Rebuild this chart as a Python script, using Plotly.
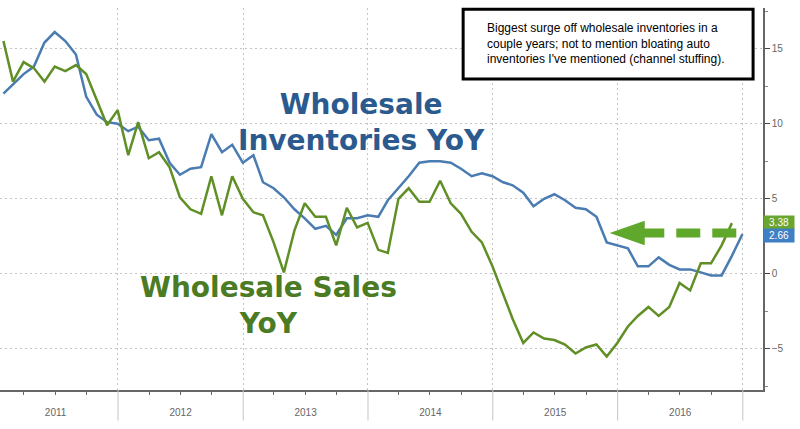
import pandas as pd
import plotly.graph_objs as go

# monthly YoY % changes, Jan 2011 onwards
months = pd.date_range('2011-01-31', periods=72, freq='ME')

inventories_yoy = [12.0, 12.6, 13.3, 13.8, 15.4, 16.1, 15.5, 14.6, 11.8, 10.6, 10.1, 10.0,
                   9.5, 9.8, 8.9, 9.0, 7.4, 6.6, 7.0, 7.1, 9.3, 8.1, 8.6, 7.4,
                   7.9, 6.1, 5.7, 5.1, 4.3, 3.7, 3.0, 3.2, 2.6, 3.7, 3.7, 3.9,
                   3.8, 4.9, 5.7, 6.5, 7.4, 7.5, 7.5, 7.4, 7.0, 6.5, 6.7, 6.5,
                   6.1, 5.9, 5.4, 4.5, 5.0, 5.3, 4.9, 4.4, 4.3, 3.8, 2.1, 1.9,
                   1.7, 0.5, 0.5, 1.1, 0.6, 0.3, 0.3, 0.1, -0.1, -0.1, 1.2, 2.66]

sales_yoy = [15.5, 12.8, 14.1, 13.7, 12.8, 13.8, 13.5, 13.9, 13.3, 11.6, 9.9, 10.9,
             7.9, 10.1, 7.7, 8.1, 7.1, 5.1, 4.3, 4.0, 6.5, 3.9, 6.5, 5.0,
             4.1, 3.9, 2.1, 0.1, 2.9, 4.7, 3.8, 3.8, 1.9, 4.4, 3.1, 3.4,
             1.6, 1.4, 5.0, 5.7, 4.8, 4.8, 6.2, 4.7, 4.0, 2.8, 2.1, 0.5,
             -1.3, -3.0, -4.6, -3.9, -4.3, -4.4, -4.7, -5.3, -4.9, -4.7, -5.5, -4.6,
             -3.5, -2.8, -2.2, -2.8, -2.2, -0.6, -1.1, 0.7, 0.7, 1.9, 3.38]

year_starts = pd.date_range('2012-01-01', periods=6, freq='YS')

blue = '#4a7cb2'
green = '#5f8f25'
arrow_green = '#5fa82c'

trace_inv = go.Scatter(x=months, y=inventories_yoy, mode='lines',
                       line={'color': blue, 'width': 2.5}, name='Inventories')
trace_sales = go.Scatter(x=months[:len(sales_yoy)], y=sales_yoy, mode='lines',
                         line={'color': green, 'width': 2.5}, name='Sales')

# year separators under the axis
shapes = []
for d in year_starts:
    shapes.append(dict(type='line', xref='x', yref='paper', x0=d, x1=d, y0=0, y1=-0.08,
                       line={'color': '#c4c4c4', 'width': 1}))

# green dashed arrow pointing left
shapes.append(dict(type='line', xref='paper', yref='paper', x0=0.965, x1=0.84, y0=0.411, y1=0.411,
                   line={'color': arrow_green, 'width': 9, 'dash': '24px,12px'}))
shapes.append(dict(type='path', xref='paper', yref='paper',
                   path='M 0.799 0.411 L 0.845 0.443 L 0.845 0.379 Z',
                   fillcolor=arrow_green, line={'width': 0}))

# comment box
shapes.append(dict(type='rect', xref='paper', yref='paper', x0=0.607, x1=0.987, y0=0.814, y1=0.997,
                   fillcolor='white', line={'color': 'black', 'width': 3}))

annotations = [
    dict(text='<b>Wholesale<br>Inventories YoY</b>', xref='paper', yref='paper', x=0.474, y=0.70,
         xanchor='center', yanchor='middle', showarrow=False,
         font={'family': 'DejaVu Sans', 'size': 28, 'color': '#2b5a8e'}),
    dict(text='<b>Wholesale Sales<br>YoY</b>', xref='paper', yref='paper', x=0.352, y=0.222,
         xanchor='center', yanchor='middle', showarrow=False,
         font={'family': 'DejaVu Sans', 'size': 28, 'color': '#4b7b23'}),
    dict(text='Biggest surge off wholesale inventories in a<br>couple years; not to mention bloating auto'
              '<br>inventories I\'ve mentioned (channel stuffing).',
         xref='paper', yref='paper', x=0.635, y=0.906, xanchor='left', yanchor='middle',
         showarrow=False, align='left',
         font={'family': 'Liberation Sans', 'size': 12, 'color': 'black'}),
    dict(text='3.38', xref='paper', yref='y', x=1.0, y=3.45, xanchor='left', showarrow=False,
         bgcolor='#6aa532', font={'family': 'Liberation Sans', 'size': 10, 'color': 'white'},
         width=28, borderpad=1),
    dict(text='2.66', xref='paper', yref='y', x=1.0, y=2.55, xanchor='left', showarrow=False,
         bgcolor='#3f7fc4', font={'family': 'Liberation Sans', 'size': 10, 'color': 'white'},
         width=28, borderpad=1),
]

layout = go.Layout(
    width=800, height=429,
    margin={'l': 0, 'r': 37, 't': 8, 'b': 39},
    paper_bgcolor='white', plot_bgcolor='white',
    showlegend=False,
    xaxis=dict(range=['2011-01-21', '2017-03-01'], dtick='M12', tick0='2011-01-01',
               tickformat='%Y', ticklabelmode='period', ticks='', ticklabelstandoff=12,
               showgrid=True, gridcolor='#c4c4c4', griddash='2px,3px', gridwidth=1,
               showline=True, linecolor='#666666', linewidth=1.5,
               tickfont={'family': 'Liberation Sans', 'size': 10, 'color': '#666666'},
               minor=dict(dtick='M3', ticks='outside', ticklen=3, tickcolor='#666666')),
    yaxis=dict(range=[-7.73, 17.7], dtick=5, side='right', zeroline=False,
               showgrid=True, gridcolor='#c4c4c4', griddash='2px,3px', gridwidth=1,
               showline=True, linecolor='#666666', linewidth=1.5,
               ticks='outside', ticklen=5, tickcolor='#444444',
               tickfont={'family': 'Liberation Sans', 'size': 10, 'color': '#666666'},
               minor=dict(dtick=2.5, ticks='outside', ticklen=3, tickcolor='#888888')),
    shapes=shapes,
    annotations=annotations,
)

fig = go.Figure(data=[trace_inv, trace_sales], layout=layout)
# drop the browser's default page margin so the 800x429 figure fills the window
fig.write_html('out.html', config={'displayModeBar': False},
               post_script="document.body.style.margin='0';")
